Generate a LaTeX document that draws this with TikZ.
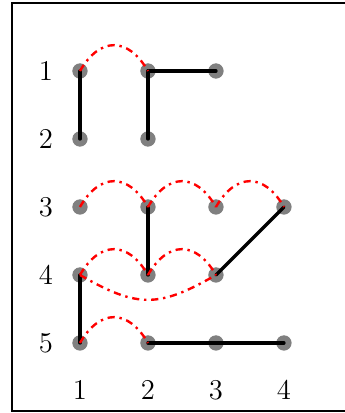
\documentclass[tikz,border=0pt]{standalone}
\usetikzlibrary{arrows,calc}
\usepackage{tkz-euclide}
\definecolor{DotClr}{gray}{0.5}
\definecolor{LinkClr}{rgb}{1,0,0}

\begin{document}
\begin{tikzpicture}[redarc/.style={color=LinkClr,line width=1pt,dash dot},
  uparc/.style={redarc,out=60,in=120,looseness=1.5}]
\tkzSetUpLine[line width=1.4pt,color=black]
\tkzSetUpPoint[fill=DotClr,color=DotClr]

\useasboundingbox (-0.176,0.044) rectangle (4.897,-6.03);
\draw[line width=1pt] (0,0) rectangle (5,-6);

\tkzDefPoints{1/-1/a1,2/-1/a2,3/-1/a3,1/-2/b1,2/-2/b2}
\tkzDefPoints{1/-3/c1,2/-3/c2,3/-3/c3,4/-3/c4,1/-4/d1,2/-4/d2,3/-4/d3}
\tkzDefPoints{1/-5/e1,2/-5/e2,3/-5/e3,4/-5/e4}

\tkzDrawPoints[size=6](a1,a2,a3,b1,b2,c1,c2,c3,c4,d1,d2,d3,e1,e2,e3,e4)
\tkzDrawSegments[line width=1.4pt](a1,b1 a2,b2 a2,a3 c2,d2 d3,c4 d1,e1 e2,e3 e3,e4)

\foreach \p/\q in {a1/a2,c1/c2,c2/c3,c3/c4,d1/d2,d2/d3,e1/e2}
  \draw[uparc] (\p) to (\q);
\draw[redarc] (d1) to[bend right=30,looseness=1.25] (d3);

\foreach \i in {1,...,5}
  \node[font=\large] (row\i) at (0.5,-\i) {$\i$};
\foreach \j in {1,...,4}
  \node[font=\large] (col\j) at (\j,-5.7) {$\j$};

\end{tikzpicture}
\end{document}
